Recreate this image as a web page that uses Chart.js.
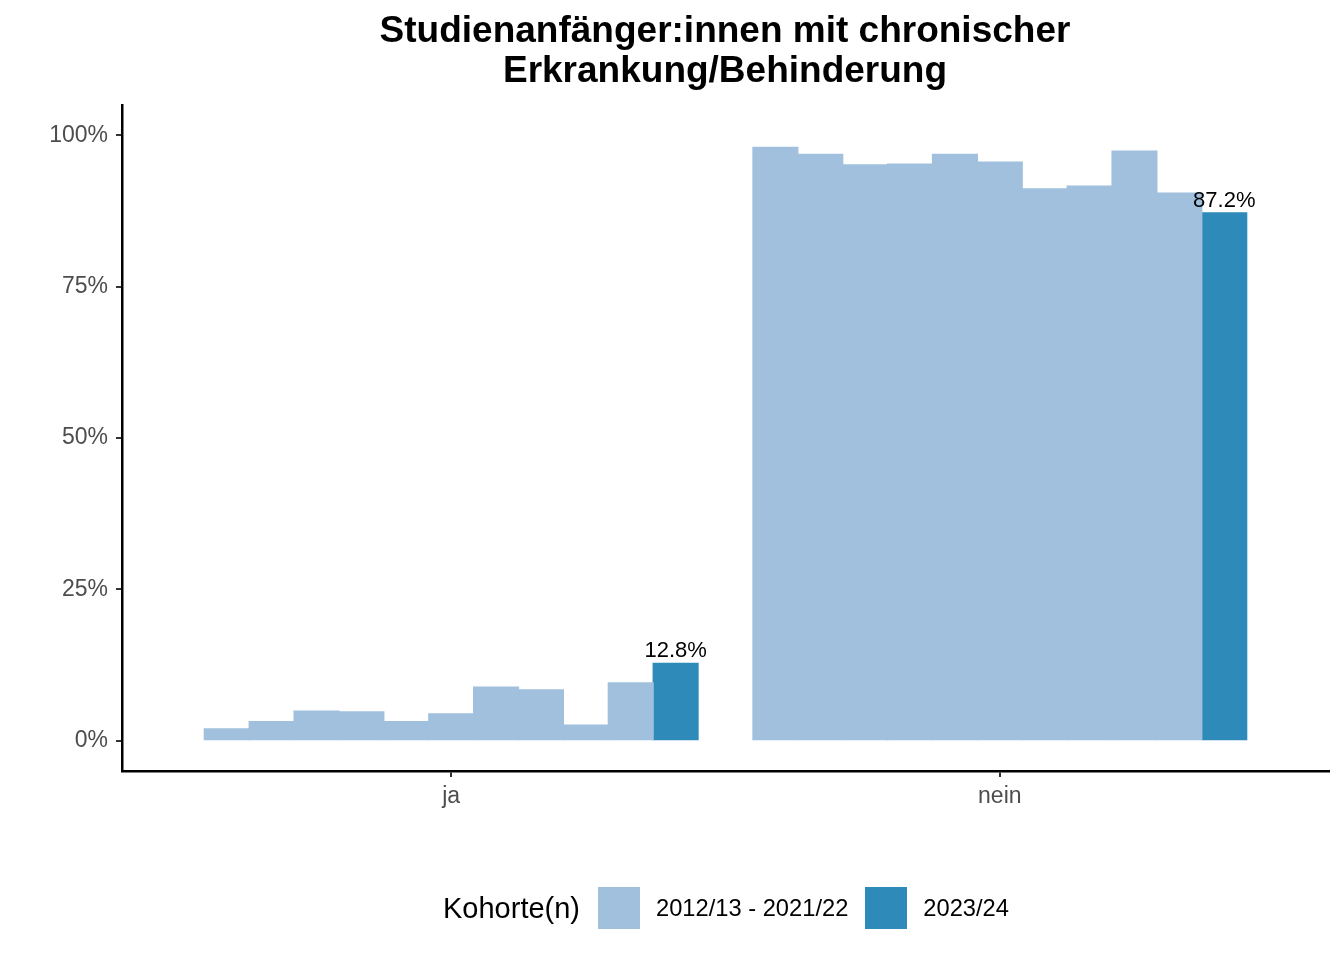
<!DOCTYPE html>
<html lang="de">
<head>
  <meta charset="UTF-8">
  <title>Studienanfänger:innen mit chronischer Erkrankung/Behinderung</title>
  <script src="https://cdn.jsdelivr.net/npm/chart.js"></script>
  <style>
    body { margin: 0; background: #fff; font-family: "Liberation Sans", Arial, Helvetica, sans-serif; }
    #wrap { position: relative; width: 1344px; height: 960px; }
    #title {
      position: absolute; left: 125px; width: 1200px; top: 10px;
      text-align: center; font-weight: bold; font-size: 37px; line-height: 40px; color: #000;
    }
    #legend {
      position: absolute; left: 443px; top: 887px; height: 42px;
      display: flex; align-items: center; color: #000;
    }
    #legend .ttl { font-size: 29px; margin-right: 18px; }
    #legend .box { width: 42px; height: 42px; margin-right: 16px; }
    #legend .lbl { font-size: 23.7px; margin-right: 17px; }
  </style>
</head>
<body>
<div id="wrap">
  <canvas id="chart" width="1344" height="960"></canvas>
  <div id="title">Studienanfänger:innen mit chronischer<br>Erkrankung/Behinderung</div>
  <div id="legend"></div>
</div>

<script>
  // data
  const categories = ["ja", "nein"];
  const cohorts = ["2012/13", "2013/14", "2014/15", "2015/16", "2016/17",
                   "2017/18", "2018/19", "2019/20", "2020/21", "2021/22", "2023/24"];
  const jaValues = [1.95, 3.15, 4.9, 4.75, 3.15, 4.45, 8.85, 8.4, 2.6, 9.55, 12.8];
  const neinValues = [98.0, 96.85, 95.1, 95.25, 96.85, 95.55, 91.15, 91.6, 97.4, 90.45, 87.2];
  const yTicks = [0, 25, 50, 75, 100];
  const legendTitle = "Kohorte(n)";
  const legendLabels = ["2012/13 - 2021/22", "2023/24"];

  const pastColor = "#A0C0DD";
  const currentColor = "#2E8AB8";
  const font = '"Liberation Sans", Arial, Helvetica, sans-serif';

  const datasets = cohorts.map((c, i) => ({
    label: c,
    data: categories.map((cat, k) => ({ x: k, y: k === 0 ? jaValues[i] : neinValues[i] })),
    backgroundColor: i === cohorts.length - 1 ? currentColor : pastColor,
    borderWidth: 0,
    inflateAmount: 0.6,
    barPercentage: 1.0,
    categoryPercentage: 0.9
  }));

  // percentage labels over the current cohort
  const valueLabels = {
    id: "valueLabels",
    afterDatasetsDraw(chart) {
      const last = chart.data.datasets.length - 1;
      const meta = chart.getDatasetMeta(last);
      const ctx = chart.ctx;
      ctx.save();
      ctx.font = "22px " + font;
      ctx.fillStyle = "#000";
      ctx.textAlign = "center";
      ctx.textBaseline = "alphabetic";
      meta.data.forEach((bar, i) => {
        const v = chart.data.datasets[last].data[i].y;
        ctx.fillText(v.toFixed(1) + "%", bar.x, bar.y - 6);
      });
      ctx.restore();
    }
  };

  new Chart(document.getElementById("chart"), {
    type: "bar",
    data: { datasets: datasets },
    options: {
      responsive: false,
      animation: false,
      layout: { padding: { top: 105, right: 15, bottom: 129, left: 0 } },
      plugins: {
        legend: { display: false },
        title: { display: false },
        tooltip: { enabled: false }
      },
      scales: {
        x: {
          type: "linear",
          min: -0.6,
          max: 1.6,
          offset: false,
          afterBuildTicks: s => { s.ticks = categories.map((c, k) => ({ value: k })); },
          afterFit: s => { s.height = 60; },
          border: { color: "#000", width: 2.5 },
          grid: { offset: false, drawOnChartArea: false, tickLength: 6, tickColor: "#333", lineWidth: 2 },
          ticks: {
            color: "#4D4D4D",
            font: { size: 23, family: font },
            padding: 6,
            maxRotation: 0,
            autoSkip: false,
            callback: v => categories[v]
          }
        },
        y: {
          min: -5,
          max: 105,
          afterBuildTicks: s => { s.ticks = yTicks.map(v => ({ value: v })); },
          afterFit: s => { s.width = 122; },
          border: { color: "#000", width: 2.5 },
          grid: { drawOnChartArea: false, tickLength: 6, tickColor: "#333", lineWidth: 2 },
          ticks: {
            color: "#4D4D4D",
            font: { size: 23, family: font },
            padding: 8,
            callback: v => v + "%"
          }
        }
      }
    },
    plugins: [valueLabels]
  });

  // legend as html, title to the left of the keys like in the reference
  const legend = document.getElementById("legend");
  const t = document.createElement("span");
  t.className = "ttl";
  t.textContent = legendTitle;
  legend.appendChild(t);
  [pastColor, currentColor].forEach((col, i) => {
    const b = document.createElement("span");
    b.className = "box";
    b.style.background = col;
    legend.appendChild(b);
    const l = document.createElement("span");
    l.className = "lbl";
    l.textContent = legendLabels[i];
    legend.appendChild(l);
  });
</script>
</body>
</html>
